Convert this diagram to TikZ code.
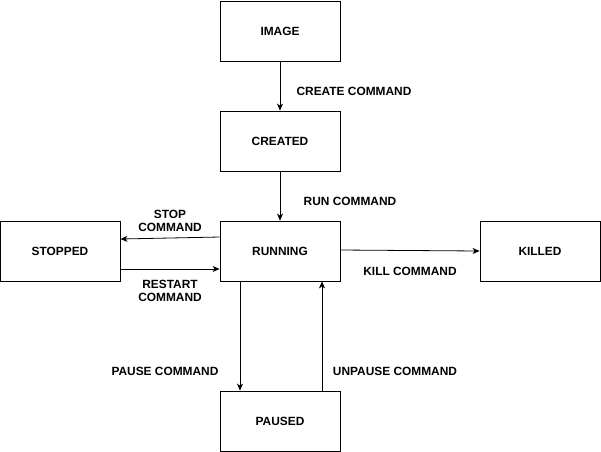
\documentclass[tikz,border=0pt]{standalone}
\usepackage{fontspec}
\setmainfont{Liberation Sans}
\usetikzlibrary{arrows.meta}
\begin{document}
\begin{tikzpicture}[x=1pt,y=-1pt,
  state/.style={draw,line width=0.8pt,minimum width=120pt,minimum height=60pt,inner sep=0pt,font=\bfseries\fontsize{11.9}{13.5}\selectfont},
  lbl/.style={font=\bfseries\fontsize{11.9}{13.5}\selectfont,align=center,inner sep=0pt},
  conn/.style={line width=0.8pt,-{Stealth[length=7pt,width=6pt,inset=2pt]}}]
\useasboundingbox (0,0) rectangle (601,451);
\node[state] (image) at (280,31) {IMAGE};
\node[state] (created) at (280,141) {CREATED};
\node[state] (running) at (280,251) {RUNNING};
\node[state] (stopped) at (60,251) {STOPPED};
\node[state] (killed) at (540,251) {KILLED};
\node[state] (paused) at (280,421) {PAUSED};
\draw[conn] (image.south) -- (created.north);
\draw[conn] (created.south) -- (running.north);
\draw[conn] ([yshift=14pt]running.west) -- ([yshift=12pt]stopped.east);
\draw[conn] ([yshift=-18pt]stopped.east) -- ([yshift=-18pt]running.west);
\draw[conn] ([yshift=1pt]running.east) -- (killed.west);
\draw[conn] ([xshift=-40pt]running.south) -- ([xshift=-40pt]paused.north);
\draw[conn] ([xshift=42pt]paused.north) -- ([xshift=42pt]running.south);
\node[lbl] (l1) at (354,91) {CREATE COMMAND};
\node[lbl] (l2) at (350,201) {RUN COMMAND};
\node[lbl] (l3) at (170,221) {STOP\\COMMAND};
\node[lbl] (l4) at (170,291) {RESTART\\COMMAND};
\node[lbl] (l5) at (410,271) {KILL COMMAND};
\node[lbl] (l6) at (165,371) {PAUSE COMMAND};
\node[lbl] (l7) at (395,371) {UNPAUSE COMMAND};
\end{tikzpicture}
\end{document}
